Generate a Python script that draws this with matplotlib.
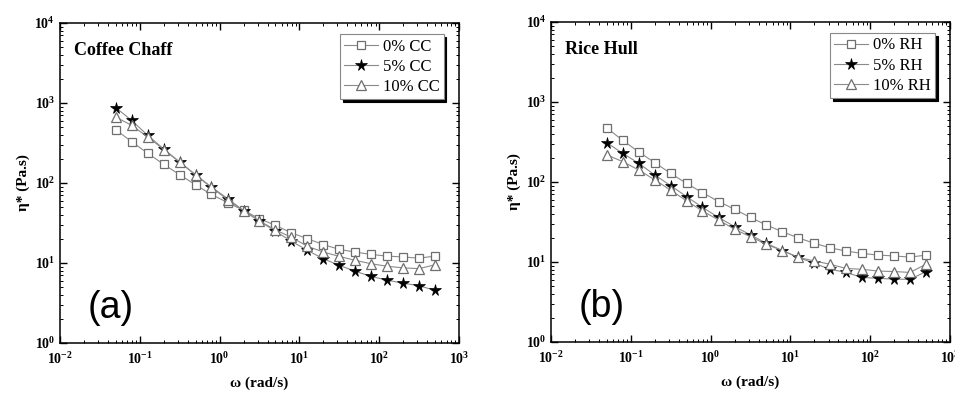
import math
import matplotlib
matplotlib.use("Agg")
import matplotlib.pyplot as plt
from matplotlib.ticker import LogLocator, FuncFormatter, NullFormatter

plt.rcParams['font.family'] = ['Liberation Serif', 'DejaVu Serif']
plt.rcParams['mathtext.fontset'] = 'custom'
plt.rcParams['mathtext.bf'] = 'Liberation Serif:bold'
plt.rcParams['mathtext.rm'] = 'Liberation Serif:bold'

# angular frequency (rad/s)
omega = [0.05, 0.079, 0.126, 0.2, 0.316, 0.5, 0.79, 1.26, 2.0, 3.16, 5.0,
         7.9, 12.6, 20.0, 31.6, 50.0, 79.0, 126.0, 200.0, 316.0, 500.0]

# complex viscosity, coffee chaff
cc_0 = [464, 329, 235, 171, 127, 95, 72, 57, 45.5, 35.8, 29.6,
        23.9, 20.1, 17.0, 14.8, 13.7, 12.8, 12.2, 11.9, 11.5, 12.2]
cc_5 = [875, 607, 394, 266, 183, 127, 89, 64, 45, 33.5, 24.9,
        18.8, 14.4, 11.3, 9.35, 7.9, 6.8, 6.1, 5.6, 5.2, 4.55]
cc_10 = [668, 526, 376, 262, 182, 126, 88, 62, 45, 33.5, 26,
         21, 16.2, 13.7, 12.1, 10.8, 9.8, 9.1, 8.7, 8.5, 9.5]

# complex viscosity, rice hull
rh_0 = [473, 332, 237, 174, 128, 96, 73.5, 57, 45.5, 36, 29,
        23.9, 20, 17.1, 15, 13.7, 12.8, 12.2, 11.9, 11.5, 12.2]
rh_5 = [310, 228, 171, 122, 90, 65.6, 48.2, 36, 27.7, 21.8, 17.1,
        13.9, 11.4, 9.6, 8.1, 7.4, 6.4, 6.25, 6.1, 6.07, 7.6]
rh_10 = [218, 180, 141, 106, 79, 58, 43.4, 33.5, 25.6, 20.7, 16.6,
         13.9, 11.4, 10.3, 9.35, 8.3, 8.1, 7.7, 7.6, 7.4, 9.4]

panels = [
    ("Coffee Chaff", "(a)", [cc_0, cc_5, cc_10], ["0% CC", "5% CC", "10% CC"]),
    ("Rice Hull", "(b)", [rh_0, rh_5, rh_10], ["0% RH", "5% RH", "10% RH"]),
]

styles = [
    dict(marker='s', mfc='white', mec='#6e6e6e', ms=6, mew=0.9),
    dict(marker='*', mfc='black', mec='black', ms=8.5, mew=0.5),
    dict(marker='^', mfc='white', mec='#6e6e6e', ms=7, mew=0.9),
]

fig = plt.figure(figsize=(9.55, 3.94), dpi=100)
axes_pos = [[0.0628, 0.1294, 0.4178, 0.8122], [0.577, 0.132, 0.4178, 0.8122]]

def log_fmt(v, pos):
    e = int(round(math.log10(v)))
    return r"$\mathbf{10^{%d}}$" % e

for pos, (title, tag, series, labels) in zip(axes_pos, panels):
    ax = fig.add_axes(pos)
    for vals, lab, st in zip(series, labels, styles):
        ax.plot(omega, vals, color='#8a8a8a', lw=0.8, label=lab, **st)
    ax.set_xscale('log')
    ax.set_yscale('log')
    ax.set_xlim(1e-2, 1e3)
    ax.set_ylim(1e0, 1e4)
    for axis in (ax.xaxis, ax.yaxis):
        axis.set_major_locator(LogLocator(base=10, numticks=10))
        axis.set_minor_locator(LogLocator(base=10, subs=range(2, 10), numticks=10))
        axis.set_major_formatter(FuncFormatter(log_fmt))
        axis.set_minor_formatter(NullFormatter())
    ax.tick_params(which='both', direction='in', top=True, right=True, labelsize=10)
    ax.tick_params(which='major', length=5, width=1)
    ax.tick_params(which='minor', length=2.5, width=0.7)
    ax.tick_params(axis='x', which='major', pad=6)
    for s in ax.spines.values():
        s.set_linewidth(1.1)
    ax.set_xlabel("ω (rad/s)", fontsize=11, fontweight='bold', labelpad=7)
    ax.set_ylabel("η* (Pa.s)", fontsize=11, fontweight='bold', labelpad=3)
    ax.text(0.035, 0.915, title, transform=ax.transAxes, fontsize=13,
            fontweight='bold', va='center', ha='left')
    ax.text(0.07, 0.11, tag, transform=ax.transAxes, fontsize=27,
            family='Liberation Sans', va='center', ha='left')
    leg = ax.legend(loc='upper right', bbox_to_anchor=(0.97, 0.975), fontsize=12,
                    fancybox=False, edgecolor='#888888', framealpha=1,
                    shadow={'color': 'black', 'alpha': 1},
                    handlelength=2.0, handletextpad=0.3, borderpad=0.25,
                    labelspacing=0.25, borderaxespad=0.2)
    leg.get_frame().set_linewidth(0.8)

fig.savefig("out.png", dpi=100)
